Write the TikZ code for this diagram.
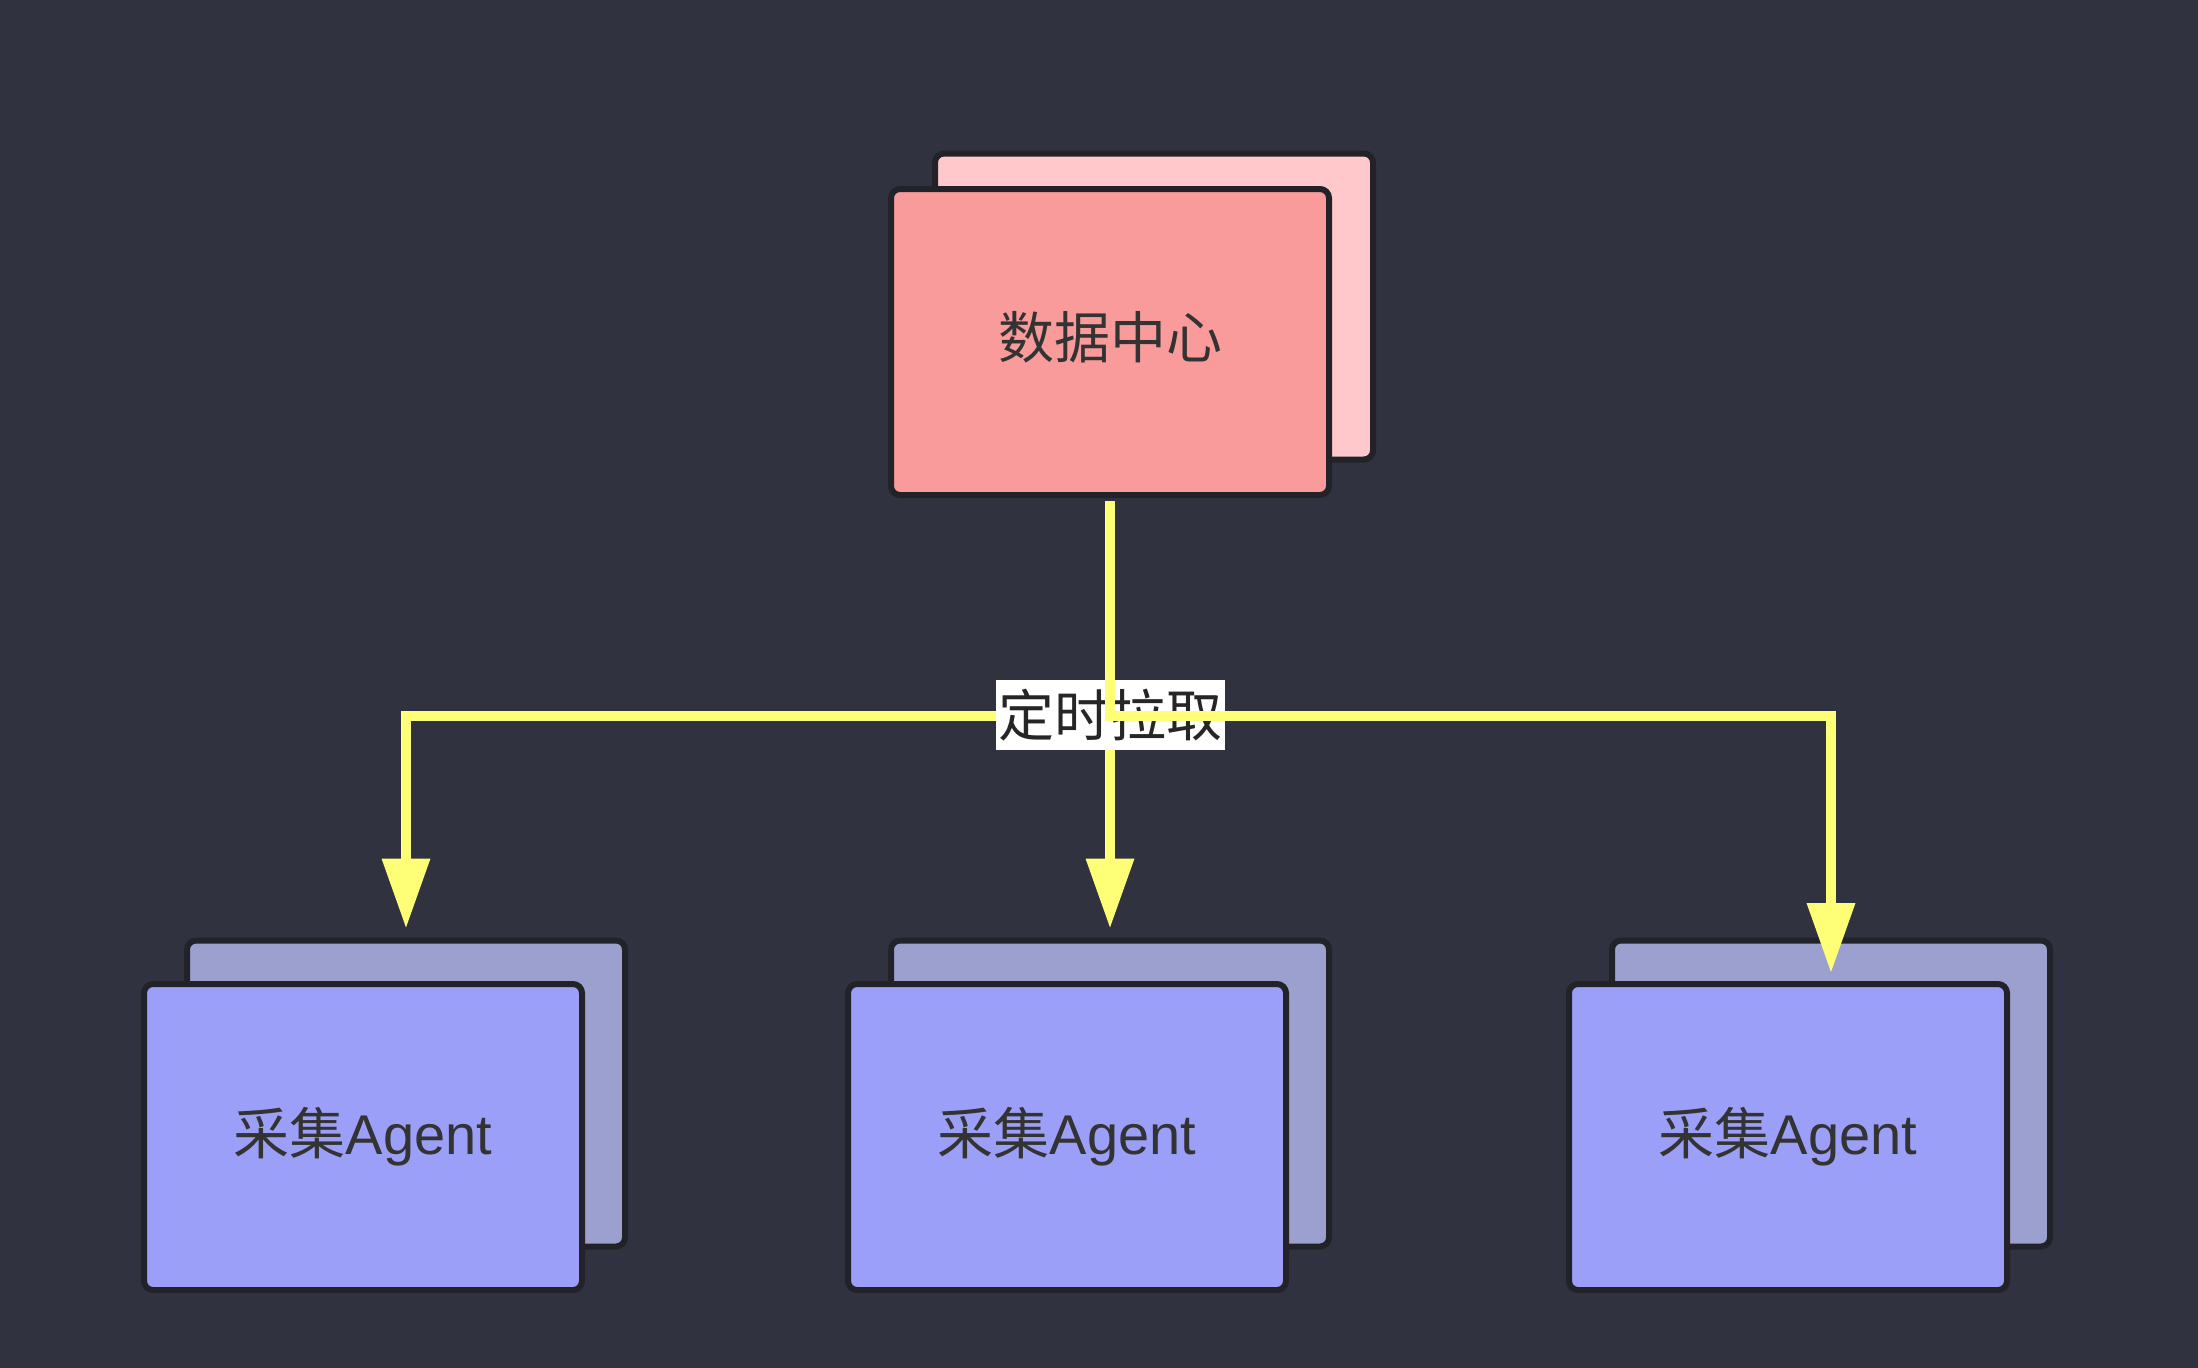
\documentclass[tikz,border=0pt]{standalone}
\usepackage{fontspec}
\usetikzlibrary{arrows.meta}
\newfontfamily\cjk{Noto Sans CJK SC}
\newfontfamily\lat{Liberation Sans}
\definecolor{bg}{HTML}{31323F}
\definecolor{edgec}{HTML}{222328}
\definecolor{redF}{HTML}{F99B9B}
\definecolor{redB}{HTML}{FFC9CC}
\definecolor{bluF}{HTML}{9C9FF7}
\definecolor{bluB}{HTML}{9BA0CF}
\definecolor{ylw}{HTML}{FFFF77}
\definecolor{txt}{HTML}{333333}
\begin{document}
\begin{tikzpicture}[x=1pt,y=-1pt,
  card/.style={rounded corners=9pt, draw=edgec, line width=6pt,
    minimum width=438pt, minimum height=306pt, inner sep=0pt,
    text=txt, font=\cjk\fontsize{56}{60}\selectfont},
  datafront/.style={card, fill=redF},
  databack/.style={card, fill=redB},
  agentfront/.style={card, fill=bluF},
  agentback/.style={card, fill=bluB},
  conn/.style={draw=ylw, line width=10pt, line join=miter,
    -{Triangle[length=70pt,width=46pt]}},
  lbl/.style={fill=white, inner sep=0pt, minimum width=229pt, minimum height=70pt,
    text=black!85, font=\cjk\fontsize{56}{60}\selectfont}]
\fill[bg] (0,0) rectangle (2198,1368);
\useasboundingbox (0,0) rectangle (2198,1368);

% data center
\node[databack] (dcb) at (1154,306.5) {};
\node[datafront] (dc) at (1110,342) {\raisebox{5pt}[\height][\depth]{数据中心}};

% agents
\node[agentback] (a1b) at (406,1093.5) {};
\node[agentfront] (a1) at (363,1137) {采集{\lat Agent}};
\node[agentback] (a2b) at (1110,1093.5) {};
\node[agentfront] (a2) at (1067,1137) {采集{\lat Agent}};
\node[agentback] (a3b) at (1831,1093.5) {};
\node[agentfront] (a3) at (1788,1137) {采集{\lat Agent}};

\coordinate (hub) at (1110,716);
\path (a3.north -| a3b.north) coordinate (t3);

% connectors
\draw[conn] ([yshift=-3pt]dc.south) -- (hub) -| ([yshift=9pt]a1b.north);
\draw[conn] ([yshift=-3pt]dc.south) -- ([yshift=9pt]a2b.north);
\node[lbl] (pull) at (1110,715) {定时拉取};
\draw[conn] ([yshift=-3pt]dc.south) -- (hub) -| ([yshift=8pt]t3);
\end{tikzpicture}
\end{document}
